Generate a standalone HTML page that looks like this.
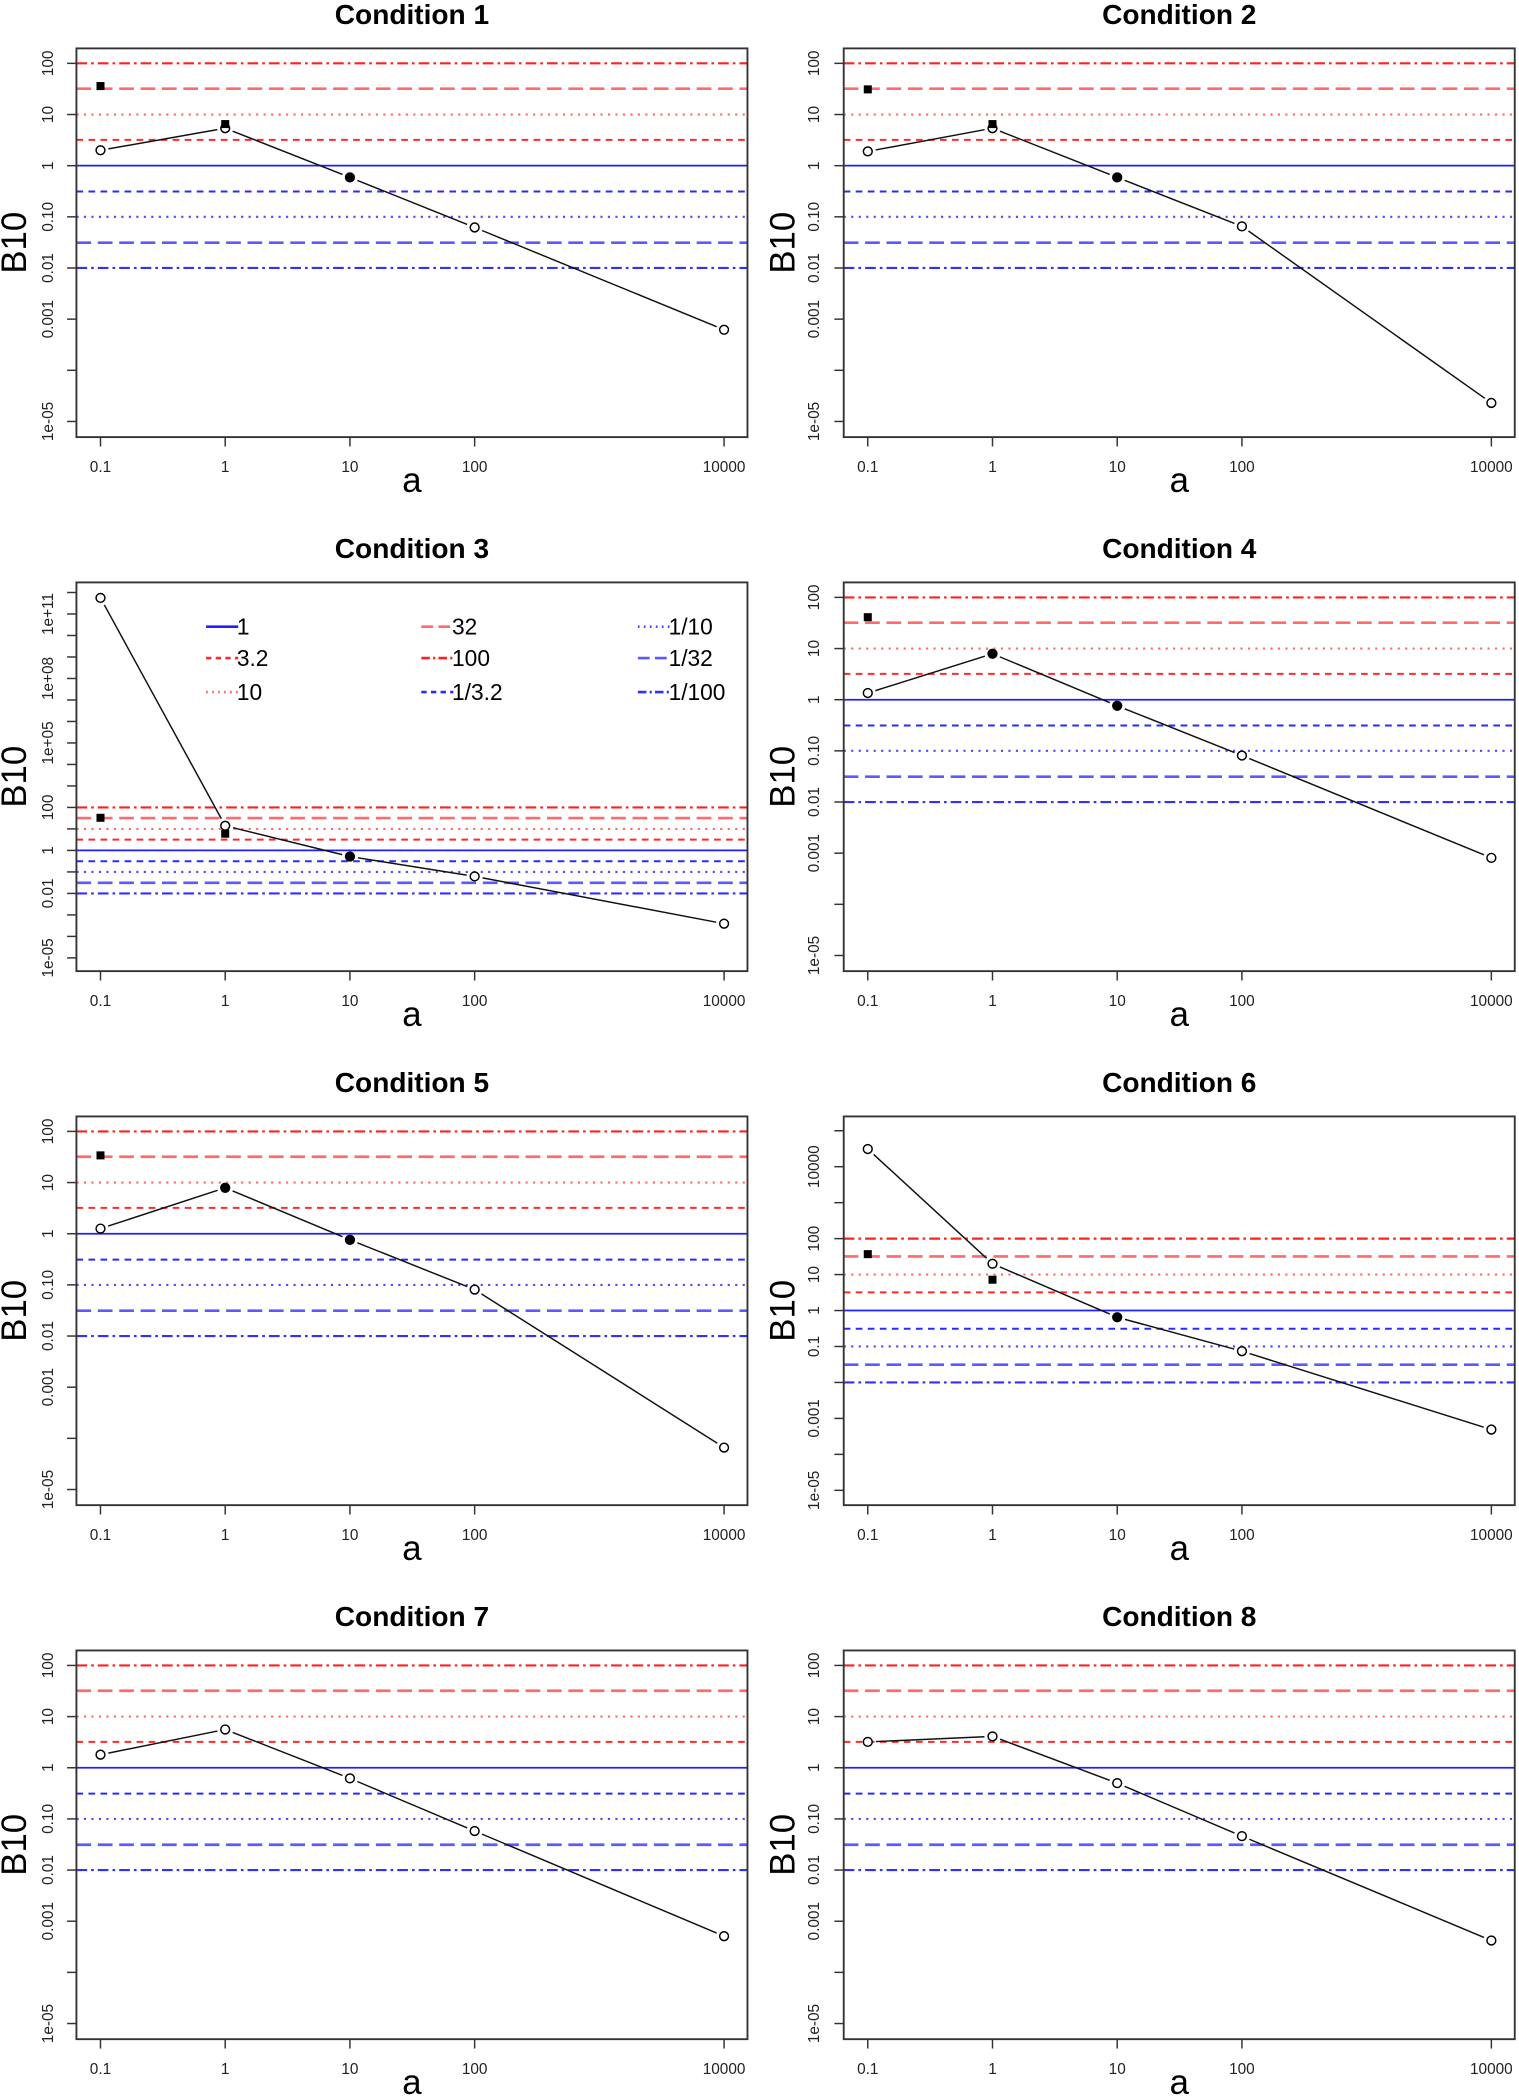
<!DOCTYPE html>
<html><head><meta charset="utf-8">
<style>
html,body{margin:0;padding:0;background:#fff;}
svg{display:block;font-family:"Liberation Sans",Arial,sans-serif;}
</style></head>
<body>
<svg id="fig" width="1519" height="2096" viewBox="0 0 1136 1568" xmlns="http://www.w3.org/2000/svg"></svg>
<script>
// ---- data ----
const conditions = ["Condition 1","Condition 2","Condition 3","Condition 4","Condition 5","Condition 6","Condition 7","Condition 8"];
const aValues = [0.1, 1, 10, 100, 10000];
const xTickLabels = ["0.1","1","10","100","10000"];
const openSeries = [
  [2.0, 5.4, 0.59, 0.062, 0.00062],
  [1.9, 5.4, 0.59, 0.065, 0.000023],
  [5.6e11, 14, 0.52, 0.062, 0.00039],
  [1.35, 7.9, 0.76, 0.081, 0.00081],
  [1.26, 7.9, 0.76, 0.081, 0.000066],
  [31000, 20, 0.65, 0.074, 0.00049],
  [1.8, 5.6, 0.62, 0.058, 0.00051],
  [3.2, 4.1, 0.50, 0.046, 0.00042]
];
const squareA = [[0.1,1],[0.1,1],[0.1,1],[0.1],[0.1],[0.1,1],[],[]];
const squareVals = [[36,6.5],[31,6.5],[33,6.0],[41],[34],[37,7.2],[],[]];
const filledA = [[10],[10],[10],[1,10],[1,10],[10],[],[]];
const filledVals = [[0.59],[0.59],[0.52],[7.9,0.76],[7.9,0.76],[0.65],[],[]];
const refValues = [100, 32, 10, 3.2, 1, 1/3.2, 1/10, 1/32, 1/100];
const refLabels = ["100","32","10","3.2","1","1/3.2","1/10","1/32","1/100"];
const stdTicks = [-5,-4,-3,-2,-1,0,1,2];
const stdTickLabels = ["1e-05","","0.001","0.01","0.10","1","10","100"];
const p3Ticks = [-5,-4,-3,-2,-1,0,1,2,3,4,5,6,7,8,9,10,11,12];
const p3TickLabels = ["1e-05","","","0.01","","1","","100","","","1e+05","","","1e+08","","","1e+11",""];
const p6Ticks = [-5,-4,-3,-2,-1,0,1,2,3,4,5];
const p6TickLabels = ["1e-05","","0.001","","0.1","1","10","100","","10000",""];

// ---- styles ----
const refStyle = {
  "100":{c:"#ff2020",d:"8 3 2 3",w:1.6},
  "32":{c:"#ff6a6a",d:"11 5",w:2},
  "10":{c:"#ff6a6a",d:"1.6 4",w:1.6},
  "3.2":{c:"#ff2a2a",d:"5 4",w:1.5},
  "1":{c:"#2020ff",d:"",w:1.3},
  "1/3.2":{c:"#2a2aff",d:"5 4",w:1.5},
  "1/10":{c:"#4a4aff",d:"1.6 4",w:1.6},
  "1/32":{c:"#5a5aff",d:"11 5",w:2},
  "1/100":{c:"#3030ff",d:"8 3 2 3",w:1.6}
};
const NS="http://www.w3.org/2000/svg";
const svg=document.getElementById("fig");
function mk(tag,attrs,parent){const e=document.createElementNS(NS,tag);for(const k in attrs)e.setAttribute(k,attrs[k]);(parent||svg).appendChild(e);return e;}

const boxTop=36.2, boxBot=327, rowH=399.5;
const cols=[{l:57,r:559,x0:75,ylab:36,b10:11},{l:631,r:1133,x0:649,ylab:609,b10:586}];
const dec=93.3;
function xScale(c,a){return cols[c].x0+(Math.log10(a)+1)*dec;}
function yFuncFor(p){
  if(p===2) return L=>236.7-L*16.08;
  if(p===5) return L=>181.4-L*26.9;
  return L=>47.4+(2-L)*38.27;
}

conditions.forEach((title,p)=>{
  const c=p%2, row=Math.floor(p/2), oy=row*rowH;
  const col=cols[c];
  const yf=yFuncFor(p);
  const ys=v=>oy+yf(Math.log10(v));
  const g=mk("g",{});
  
  
  const cx=(col.l+col.r)/2;
  const t=mk("text",{x:cx,y:oy+18,"text-anchor":"middle","font-size":21,"font-weight":"bold",fill:"#000"},g);
  t.textContent=title;
  
  
  const clipId="clip"+p;
  const cp=mk("clipPath",{id:clipId},g);
  mk("rect",{x:col.l,y:oy+boxTop,width:col.r-col.l,height:boxBot-boxTop},cp);
  const refG=mk("g",{"clip-path":"url(#"+clipId+")"},g);
  refValues.forEach((v,i)=>{
    const s=refStyle[refLabels[i]];
    const ln=mk("line",{x1:col.l,x2:col.r,y1:ys(v),y2:ys(v),stroke:s.c,"stroke-width":s.w,"stroke-dasharray":s.d},refG);
    
    
  });
  const vals=openSeries[p];
  const pts=vals.map((v,i)=>[xScale(c,aValues[i]),ys(v)]);
  const serG=mk("g",{"clip-path":"url(#"+clipId+")"},g);
  for(let i=0;i<pts.length-1;i++){
    const [x1,y1]=pts[i],[x2,y2]=pts[i+1];
    const dx=x2-x1,dy=y2-y1,len=Math.hypot(dx,dy),gap=6;
    if(len<2*gap)continue;
    const ux=dx/len,uy=dy/len;
    const seg=mk("line",{x1:x1+ux*gap,y1:y1+uy*gap,x2:x2-ux*gap,y2:y2-uy*gap,stroke:"#111","stroke-width":1.1},serG);
    
    
  }
  pts.forEach(([x,y])=>{
    const ci=mk("circle",{cx:x,cy:y,r:3.3,fill:"#fff",stroke:"#000","stroke-width":1.1},serG);
    
    
  });
  squareA[p].forEach((a,i)=>{
    const x=xScale(c,a),y=ys(squareVals[p][i]);
    const sq=mk("rect",{x:x-3,y:y-3,width:6,height:6,fill:"#000"},serG);
    
    
  });
  filledA[p].forEach((a,i)=>{
    const x=xScale(c,a),y=ys(filledVals[p][i]);
    const fc=mk("circle",{cx:x,cy:y,r:3.6,fill:"#000"},serG);
    
    
  });
  const box=mk("rect",{x:col.l,y:oy+boxTop,width:col.r-col.l,height:boxBot-boxTop,fill:"none",stroke:"#333","stroke-width":1.4},g);
  
  
  aValues.forEach((a,i)=>{
    const x=xScale(c,a);
    mk("line",{x1:x,x2:x,y1:oy+boxBot,y2:oy+boxBot+7,stroke:"#333","stroke-width":1.1},g);
    const tl=mk("text",{x:x,y:oy+353,"text-anchor":"middle","font-size":11.5,fill:"#222"},g);
    tl.textContent=xTickLabels[i];
    
    
  });
  const xl=mk("text",{x:cx,y:oy+368,"text-anchor":"middle","font-size":26,fill:"#000"},g);
  xl.textContent="a";
  
  
  const ticks=p===2?p3Ticks:(p===5?p6Ticks:stdTicks);
  const tlabs=p===2?p3TickLabels:(p===5?p6TickLabels:stdTickLabels);
  ticks.forEach((L,i)=>{
    const y=oy+yf(L);
    mk("line",{x1:col.l-7,x2:col.l,y1:y,y2:y,stroke:"#333","stroke-width":1.1},g);
    if(tlabs[i]){
      const yl=mk("text",{x:col.ylab,y:y,"text-anchor":"middle","dominant-baseline":"central","font-size":11.5,fill:"#222",transform:"rotate(-90 "+col.ylab+" "+y+")"},g);
      yl.textContent=tlabs[i];
      
      
    }
  });
  const ymid=oy+(boxTop+boxBot)/2;
  const yt=mk("text",{x:col.b10,y:ymid,"text-anchor":"middle","dominant-baseline":"central","font-size":26,fill:"#000",transform:"rotate(-90 "+col.b10+" "+ymid+")"},g);
  yt.textContent="B10";
  
  

  if(p===2){
    const legOrder=["1","3.2","10","32","100","1/3.2","1/10","1/32","1/100"];
    const lx=[154,315,477], lyy=[468.8,492.3,517.7];
    legOrder.forEach((lab,i)=>{
      const cI=Math.floor(i/3), rI=i%3;
      const s=refStyle[lab];
      const ent=mk("g",{},g);
      
      
      const sd=s.d?s.d.split(" ").map(n=>+n*0.8).join(" "):"";
      mk("line",{x1:lx[cI],x2:lx[cI]+24,y1:lyy[rI],y2:lyy[rI],stroke:s.c,"stroke-width":2,"stroke-dasharray":sd},ent);
      const tx=mk("text",{x:lx[cI]+23,y:lyy[rI]+6,"font-size":17,fill:"#000"},ent);
      tx.textContent=lab;
    });
  }
});
</script>
</body></html>
